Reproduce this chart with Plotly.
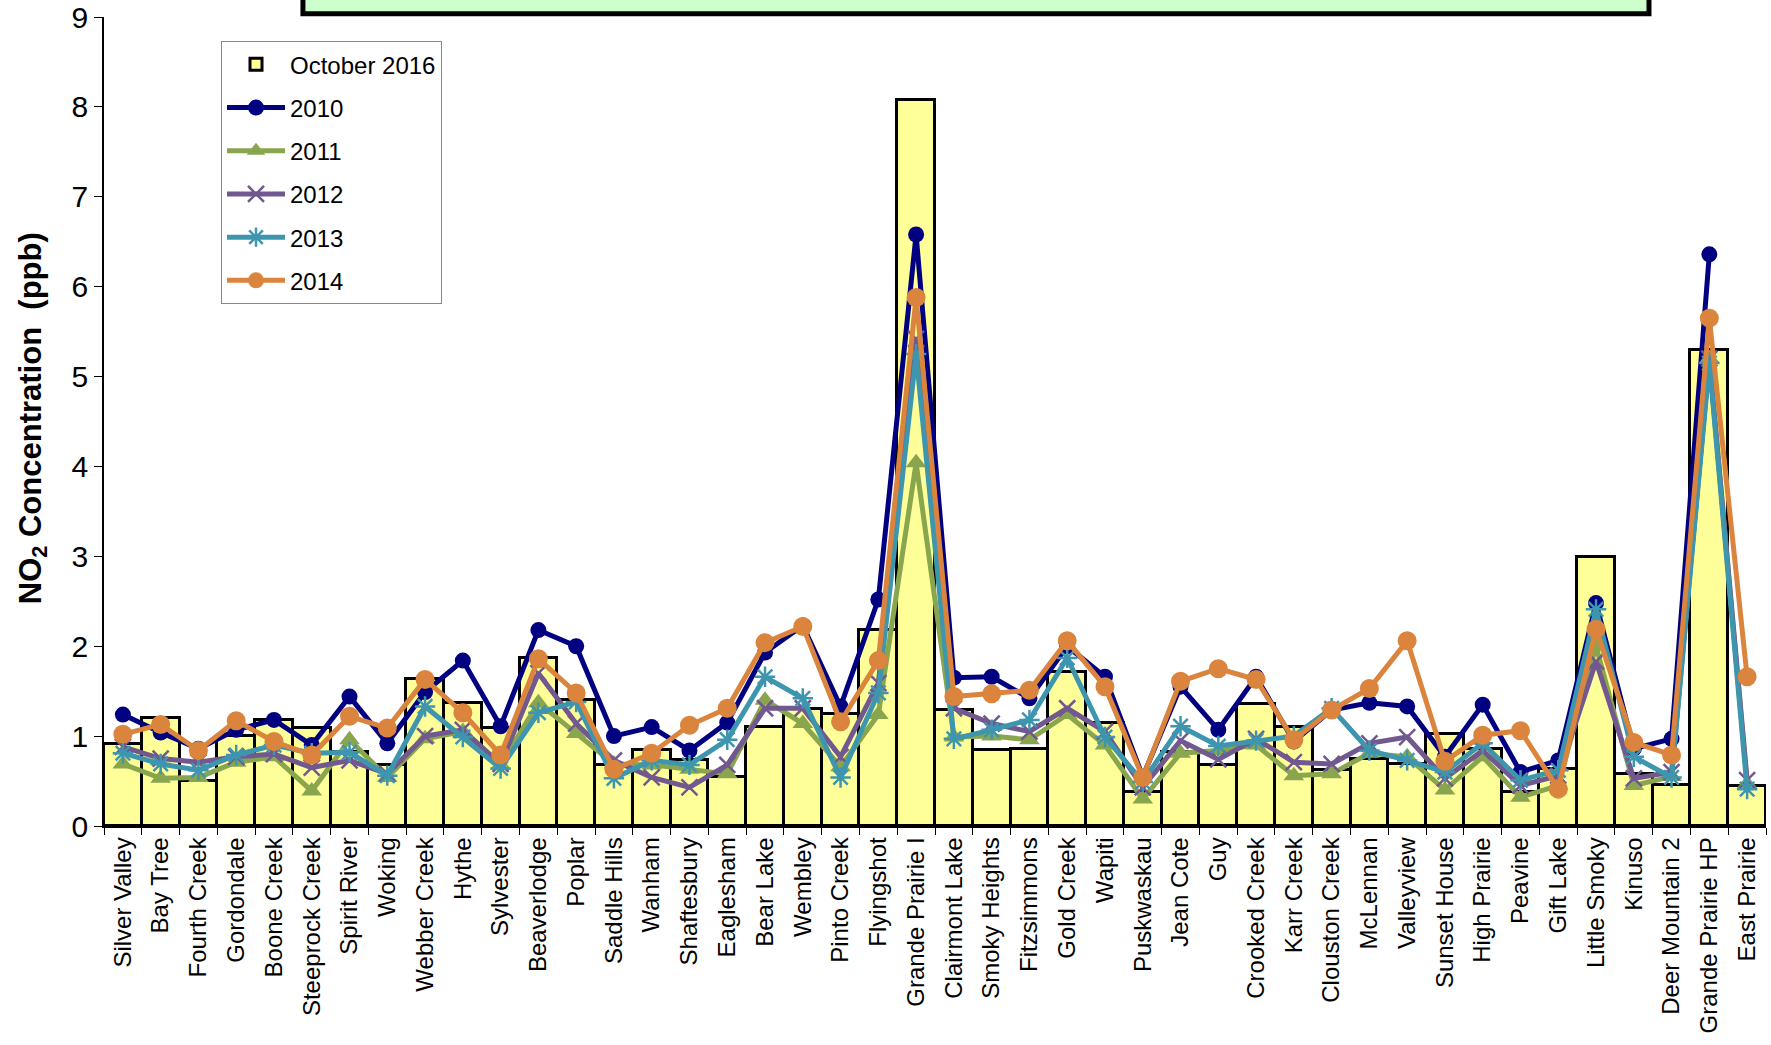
import plotly.graph_objects as go

stations = ["Silver Valley", "Bay Tree", "Fourth Creek", "Gordondale", "Boone Creek",
            "Steeprock Creek", "Spirit River", "Woking", "Webber Creek", "Hythe",
            "Sylvester", "Beaverlodge", "Poplar", "Saddle Hills", "Wanham",
            "Shaftesbury", "Eaglesham", "Bear Lake", "Wembley", "Pinto Creek",
            "Flyingshot", "Grande Prairie I", "Clairmont Lake", "Smoky Heights",
            "Fitzsimmons", "Gold Creek", "Wapiti", "Puskwaskau", "Jean Cote", "Guy",
            "Crooked Creek", "Karr Creek", "Clouston Creek", "McLennan", "Valleyview",
            "Sunset House", "High Prairie", "Peavine", "Gift Lake", "Little Smoky",
            "Kinuso", "Deer Mountain 2", "Grande Prairie HP", "East Prairie"]

oct2016 = [0.91, 1.20, 0.50, 1.00, 1.18, 1.09, 0.82, 0.68, 1.63, 1.37, 1.09, 1.87, 1.40,
           0.68, 0.84, 0.73, 0.54, 1.10, 1.30, 1.25, 2.18, 8.08, 1.29, 0.84, 0.86, 1.71,
           1.15, 0.38, 0.82, 0.68, 1.36, 1.10, 0.62, 0.74, 0.69, 1.02, 0.86, 0.38, 0.63,
           2.99, 0.58, 0.46, 5.30, 0.45]

y2010 = [1.24, 1.04, 0.86, 1.07, 1.18, 0.90, 1.44, 0.92, 1.49, 1.84, 1.11, 2.18, 2.00,
         1.00, 1.10, 0.84, 1.15, 1.93, 2.23, 1.33, 2.52, 6.58, 1.65, 1.66, 1.42, 2.00,
         1.66, 0.55, 1.55, 1.07, 1.66, 0.94, 1.29, 1.37, 1.33, 0.77, 1.35, 0.60, 0.73,
         2.48, 0.86, 0.97, 6.36, None]

y2011 = [0.69, 0.53, 0.54, 0.71, 0.77, 0.39, 0.96, 0.54, 0.97, 1.05, 0.68, 1.37, 1.03,
         0.69, 0.68, 0.63, 0.58, 1.40, 1.14, 0.66, 1.24, 4.04, 0.99, 1.00, 0.96, 1.24,
         0.90, 0.30, 0.81, 0.84, 0.90, 0.56, 0.58, 0.81, 0.77, 0.40, 0.77, 0.32, 0.45,
         2.00, 0.45, 0.55, 5.20, 0.47]

y2012 = [0.88, 0.75, 0.71, 0.77, 0.80, 0.65, 0.73, 0.58, 1.00, 1.07, 0.69, 1.70, 1.14,
         0.73, 0.54, 0.43, 0.68, 1.31, 1.31, 0.77, 1.59, 5.42, 1.31, 1.14, 1.05, 1.31,
         1.05, 0.43, 0.95, 0.74, 0.97, 0.71, 0.69, 0.92, 0.99, 0.53, 0.84, 0.45, 0.56,
         1.83, 0.53, 0.60, 5.20, 0.51]

y2013 = [0.81, 0.69, 0.62, 0.79, 0.90, 0.81, 0.82, 0.56, 1.33, 0.99, 0.64, 1.26, 1.38,
         0.53, 0.73, 0.68, 0.96, 1.66, 1.42, 0.54, 1.48, 5.25, 0.97, 1.07, 1.18, 1.87,
         0.99, 0.49, 1.11, 0.89, 0.95, 1.00, 1.31, 0.84, 0.73, 0.60, 0.92, 0.51, 0.62,
         2.41, 0.77, 0.54, 5.15, 0.41]

y2014 = [1.02, 1.13, 0.84, 1.17, 0.94, 0.79, 1.22, 1.09, 1.63, 1.26, 0.79, 1.86, 1.48,
         0.63, 0.81, 1.12, 1.31, 2.04, 2.22, 1.16, 1.84, 5.88, 1.44, 1.47, 1.51, 2.06,
         1.55, 0.54, 1.61, 1.75, 1.63, 0.96, 1.29, 1.53, 2.06, 0.72, 1.01, 1.06, 0.41,
         2.19, 0.93, 0.79, 5.65, 1.66]

FONT = "Liberation Sans, Arial, sans-serif"

fig = go.Figure()
fig.add_trace(go.Bar(
    x=stations, y=oct2016, name="October 2016",
    marker=dict(color="#FFFF99", line=dict(color="black", width=3)),
    legendgroup="a",
))

series = [
    ("2010", y2010, "#000080", dict(symbol="circle", size=16, color="#000080")),
    ("2011", y2011, "#89A54E", dict(symbol="triangle-up", size=18, color="#89A54E")),
    ("2012", y2012, "#71588F", dict(symbol="x-thin", size=16, color="#71588F",
                                    line=dict(color="#71588F", width=2.5))),
    ("2013", y2013, "#3D96AE", dict(symbol="asterisk", size=17, color="#3D96AE",
                                    line=dict(color="#3D96AE", width=2.5))),
    ("2014", y2014, "#DB843D", dict(symbol="circle", size=19, color="#DB843D")),
]
for name, vals, col, mk in series:
    fig.add_trace(go.Scatter(
        x=stations, y=vals, name=name, mode="lines+markers",
        line=dict(color=col, width=5), marker=mk, legendgroup=name,
        connectgaps=False,
    ))

# title box at top (cut off in the reference)
fig.add_shape(type="rect", xref="paper", yref="paper",
              x0=0.1197, x1=0.9296, y0=1.004, y1=1.2,
              fillcolor="#CCFFCC", line=dict(color="black", width=5))

fig.add_annotation(
    text="<b>NO<sub>2</sub> Concentration  (ppb)</b>",
    xref="paper", yref="paper", x=-0.056, y=0.504,
    textangle=-90, showarrow=False,
    font=dict(family=FONT, size=31, color="black"),
)

fig.update_layout(
    width=1771, height=1045,
    margin=dict(l=104, r=5, t=17, b=219, autoexpand=False),
    plot_bgcolor="white", paper_bgcolor="white",
    bargap=0,
    font=dict(family=FONT, color="black"),
    showlegend=True,
    legend=dict(
        x=0.0704, y=0.970, xanchor="left", yanchor="top",
        bgcolor="white", bordercolor="#888888", borderwidth=1,
        font=dict(family=FONT, size=24, color="black"),
        traceorder="grouped", tracegroupgap=9, itemwidth=58,
    ),
)
fig.update_xaxes(
    type="category", tickangle=-90, range=[-0.5, len(stations) - 0.5],
    automargin=False,
    tickfont=dict(family=FONT, size=24, color="black"),
    showline=True, linecolor="black", linewidth=1.5,
    ticks="outside", tickson="boundaries", ticklen=7, tickcolor="black",
    showgrid=False, mirror=False,
)
fig.update_yaxes(
    range=[0, 9], dtick=1, tick0=0, automargin=False,
    tickfont=dict(family=FONT, size=30, color="black"),
    showline=True, linecolor="black", linewidth=1.5,
    ticks="outside", ticklen=8, tickcolor="black",
    showgrid=False, zeroline=False,
)

fig.write_html("out.html", config={"displayModeBar": False},
               post_script="document.body.style.margin='0px';document.body.style.overflow='hidden';")
